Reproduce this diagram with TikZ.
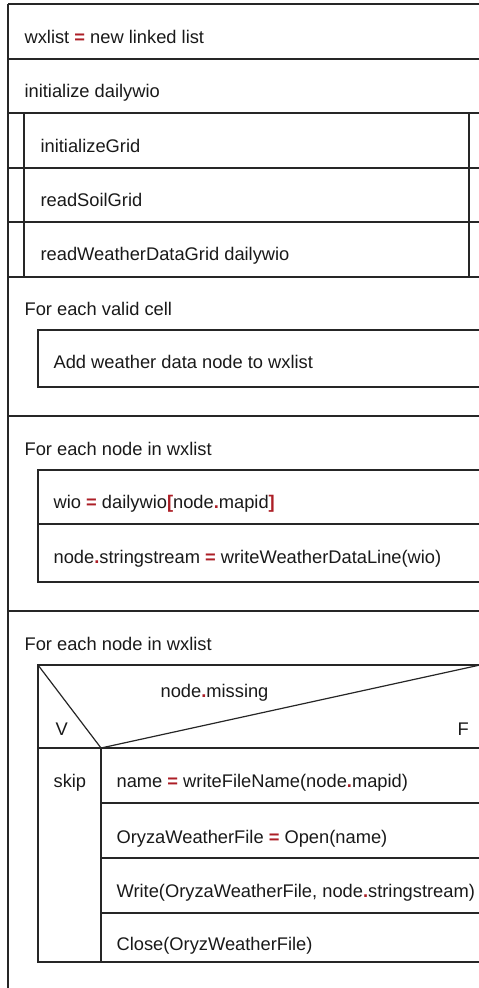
\documentclass[tikz,border=0pt]{standalone}
\usepackage{fontspec}
\setmainfont{Liberation Sans}
\usepackage{tikz}
\definecolor{opred}{RGB}{172,30,38}
\def\eq{\textcolor{opred}{\textbf{=}}}
\def\dt{\textcolor{opred}{\textbf{.}}}
\def\lb{\textcolor{opred}{\textbf{[}}}
\def\rb{\textcolor{opred}{\textbf{]}}}

\begin{document}
\begin{tikzpicture}[x=1pt, y=-1pt, line width=1.2pt, color=black!85,
	txt/.style={anchor=base west, inner sep=0pt, text=black!90, font=\fontsize{18.3}{21}\selectfont}]
			%%%%% START %%%%%
			
			\useasboundingbox (0, 0) rectangle (479, 988);
			\clip (0, 0) rectangle (479, 988);
			
			\draw (8, 4) -- (8, 995);
			\draw (8, 4) -- (490, 4);
			\draw (8, 59) -- (490, 59);
			\draw (8, 113) -- (490, 113);
			
			\draw (24, 113) -- (24, 277);
			\draw (469, 113) -- (469, 277);
			\draw (8, 168) -- (490, 168);
			\draw (8, 222) -- (490, 222);
			\draw (8, 277) -- (490, 277);
			
			\node[txt] (newlist) at (24, 43) {wxlist \eq{} new linked list};
			\node[txt] (initwio) at (24, 97) {initialize dailywio};
			\node[txt] (initgrid) at (40, 152) {initializeGrid};
			\node[txt] (soilgrid) at (40, 206) {readSoilGrid};
			\node[txt] (wxgrid) at (40, 260) {readWeatherDataGrid dailywio};
			
			% loop 1
			\node[txt] (loopcell) at (24, 315) {For each valid cell};
			\draw (490, 330) -- (38, 330) -- (38, 387) -- (490, 387);
			\node[txt] (addnode) at (53, 368) {Add weather data node to wxlist};
			\draw (8, 416) -- (490, 416);
			
			% loop 2
			\node[txt] (loopnode) at (24, 455) {For each node in wxlist};
			\draw (490, 470) -- (38, 470) -- (38, 582) -- (490, 582);
			\draw (38, 524) -- (490, 524);
			\node[txt] (getwio) at (53, 508) {wio \eq{} dailywio\lb node\dt mapid\rb};
			\node[txt] (writeline) at (53, 563) {node\dt stringstream \eq{} writeWeatherDataLine(wio)};
			\draw (8, 611) -- (490, 611);
			
			% loop 3
			\node[txt] (loopfile) at (24, 650) {For each node in wxlist};
			\draw (490, 665) -- (38, 665) -- (38, 962) -- (490, 962);
			\draw (38, 665) -- (101, 748) -- (480, 665);
			\draw (38, 748) -- (490, 748);
			\draw (101, 748) -- (101, 962);
			\draw (101, 803) -- (490, 803);
			\draw (101, 858) -- (490, 858);
			\draw (101, 913) -- (490, 913);
			\node[txt] (missing) at (160, 697) {node\dt missing};
			\node[txt] (yes) at (55, 735) {V};
			\node[txt] (no) at (457, 735) {F};
			\node[txt] (skip) at (53, 787) {skip};
			\node[txt] (fname) at (116, 787) {name \eq{} writeFileName(node\dt mapid)};
			\node[txt] (fopen) at (116, 843) {OryzaWeatherFile \eq{} Open(name)};
			\node[txt] (fwrite) at (116, 897) {Write(OryzaWeatherFile, node\dt stringstream)};
			\node[txt] (fclose) at (116, 950) {Close(OryzWeatherFile)};
			
			%%%%% END %%%%%
		\end{tikzpicture}
\end{document}
